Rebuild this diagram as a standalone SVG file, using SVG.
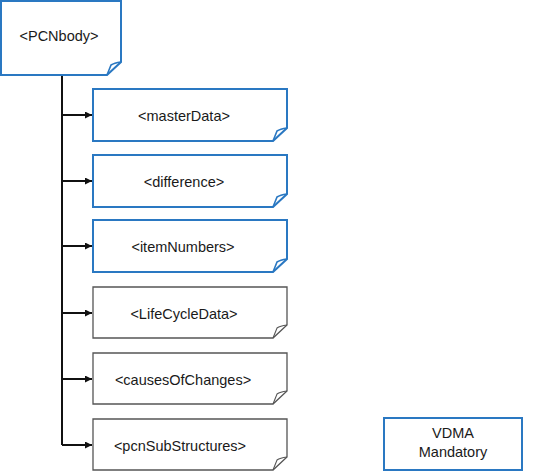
<svg xmlns="http://www.w3.org/2000/svg" width="537" height="472" viewBox="0 0 537 472">
<style>
.b{fill:#fff;stroke:#2a78c2;stroke-width:2;stroke-linejoin:miter}
.g{fill:#fff;stroke:#555;stroke-width:1.3;stroke-linejoin:miter}
.fb{fill:none;stroke:#2a78c2;stroke-width:1.6}
.fg{fill:none;stroke:#555;stroke-width:1.1}
.t{font-family:"Liberation Sans",Arial,sans-serif;font-size:14.5px;fill:#1a1a1a;text-anchor:middle}
.c{stroke:#111;stroke-width:2;fill:none}
</style>
<defs>
<marker id="ah" viewBox="0 0 10 10" refX="10" refY="5" markerWidth="10" markerHeight="7" markerUnits="userSpaceOnUse" orient="auto">
<path d="M0,0 L10,5 L0,10 Z" fill="#111"/>
</marker>
</defs>
<g id="connectors">
<path class="c" d="M62,75 V445"/>
<path class="c" d="M62,115 H92" marker-end="url(#ah)"/>
<path class="c" d="M62,181 H92" marker-end="url(#ah)"/>
<path class="c" d="M62,246 H92" marker-end="url(#ah)"/>
<path class="c" d="M62,313 H92" marker-end="url(#ah)"/>
<path class="c" d="M62,379 H92" marker-end="url(#ah)"/>
<path class="c" d="M62,445 H92" marker-end="url(#ah)"/>
</g>
<g id="PCNbody">
<path class="b" d="M1,1 H121 V62 L107,75 H1 Z"/>
<path class="fb" d="M107,75 L111,65 Q114,63 121,62"/>
<text class="t" x="59" y="41">&lt;PCNbody&gt;</text>
</g>
<g id="masterData">
<path class="b" d="M93,89 H287 V128 L273,141 H93 Z"/>
<path class="fb" d="M273,141 L277,131 Q280,129 287,128"/>
<text class="t" x="184" y="121">&lt;masterData&gt;</text>
</g>
<g id="difference">
<path class="b" d="M93,155 H287 V194 L273,207 H93 Z"/>
<path class="fb" d="M273,207 L277,197 Q280,195 287,194"/>
<text class="t" x="184" y="187">&lt;difference&gt;</text>
</g>
<g id="itemNumbers">
<path class="b" d="M93,220 H287 V259 L273,272 H93 Z"/>
<path class="fb" d="M273,272 L277,262 Q280,260 287,259"/>
<text class="t" x="183" y="252">&lt;itemNumbers&gt;</text>
</g>
<g id="LifeCycleData">
<path class="g" d="M93,287 H287 V325 L273,338 H93 Z"/>
<path class="fg" d="M273,338 L277,328 Q280,326 287,325"/>
<text class="t" x="184" y="319">&lt;LifeCycleData&gt;</text>
</g>
<g id="causesOfChanges">
<path class="g" d="M93,353 H287 V391 L273,404 H93 Z"/>
<path class="fg" d="M273,404 L277,394 Q280,392 287,391"/>
<text class="t" x="183" y="385">&lt;causesOfChanges&gt;</text>
</g>
<g id="pcnSubStructures">
<path class="g" d="M93,419 H287 V457 L273,470 H93 Z"/>
<path class="fg" d="M273,470 L277,460 Q280,458 287,457"/>
<text class="t" x="180" y="451">&lt;pcnSubStructures&gt;</text>
</g>
<g id="legend">
<rect class="b" x="384" y="418" width="138" height="52"/>
<text class="t" x="453" y="438">VDMA</text>
<text class="t" x="453" y="457">Mandatory</text>
</g>
</svg>
